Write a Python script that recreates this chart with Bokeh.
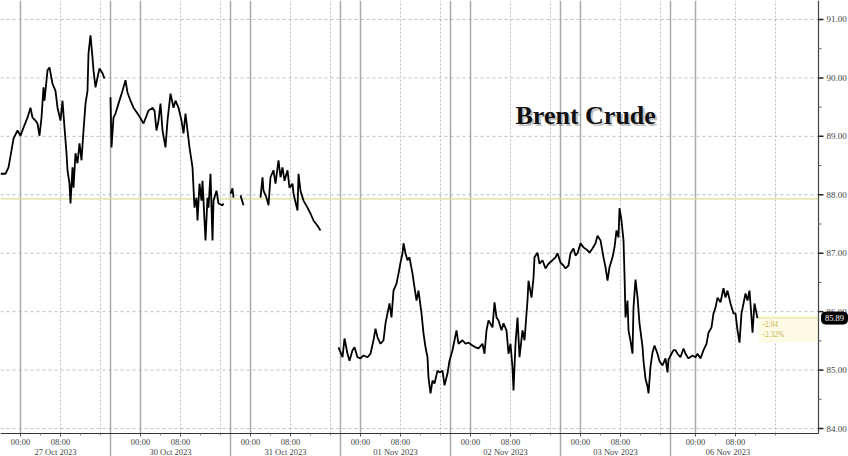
from bokeh.plotting import figure
from bokeh.models import Range1d
from bokeh.core.properties import value
from bokeh.embed import file_html
from bokeh.resources import INLINE

# ---------------- data ----------------
# trading sessions; x is continuous trading time in hours since the 27 Oct open
days = ["27 Oct 2023", "30 Oct 2023", "31 Oct 2023", "01 Nov 2023",
        "02 Nov 2023", "03 Nov 2023", "06 Nov 2023"]
session_open = [-4, -6, -4, -4, -4, -4, -5]    # hours before midnight
session_close = [18, 18, 18, 18, 18, 18, 18]   # hours after midnight
time_labels = ["00:00", "08:00"]

GAP = None
oct27 = [(0.0, 88.36), (1.0, 88.36), (1.6, 88.47), (2.2, 88.76), (2.6, 88.96), (3.4, 89.10),
         (4.0, 89.01), (4.6, 89.15), (5.4, 89.32), (6.0, 89.49), (6.4, 89.32), (7.0, 89.27),
         (7.4, 89.22), (7.8, 89.01), (8.2, 89.32), (8.6, 89.84), (8.8, 89.61), (9.4, 90.13),
         (9.8, 90.18), (10.4, 89.90), (11.0, 89.78), (11.4, 89.49), (12.0, 89.27), (12.4, 89.61),
         (12.8, 89.15), (13.2, 88.71), (13.4, 88.42), (13.8, 88.19), (14.0, 87.85), (14.4, 88.47),
         (14.6, 88.12), (15.0, 88.71), (15.4, 88.54), (15.8, 88.88), (16.2, 88.59), (16.6, 89.10),
         (17.0, 89.56), (17.4, 89.78), (17.6, 90.42), (18.0, 90.73), (18.4, 90.35), (18.6, 90.13),
         (19.0, 89.84), (19.4, 90.01), (19.8, 90.16), (20.4, 90.08), (20.8, 89.99)]
oct30 = [(22.0, 89.67), (22.2, 88.81), (22.6, 89.32), (23.0, 89.39), (23.6, 89.56), (24.4, 89.78),
         (25.0, 89.96), (25.4, 89.75), (26.0, 89.61), (26.6, 89.49), (27.4, 89.39), (28.0, 89.31),
         (28.6, 89.22), (29.6, 89.44), (30.4, 89.49), (30.8, 89.44), (31.2, 89.10), (31.6, 89.27),
         (32.0, 89.56), (32.4, 89.10), (33.0, 88.81), (33.4, 89.27), (34.0, 89.73), (34.6, 89.49),
         (35.0, 89.61), (35.6, 89.49), (36.2, 89.27), (36.6, 89.05), (37.0, 89.39), (37.4, 89.10),
         (37.8, 88.81), (38.4, 88.47), (38.6, 88.12), (38.8, 87.78), (39.2, 87.95), (39.4, 87.56),
         (39.8, 88.19), (40.2, 87.90), (40.4, 88.24), (40.6, 87.90), (41.0, 87.22), (41.4, 87.95),
         (41.6, 87.78), (42.0, 88.36), (42.4, 87.22), (42.6, 87.90), (43.2, 88.07), (43.6, 87.85),
         (44.4, 87.82), (44.6, 87.85)]
oct31 = [(46.0, 88.02), (46.4, 88.11), (46.6, 87.95), GAP, (48.0, 87.99), (48.6, 87.82), GAP,
         (52.0, 87.95), (52.4, 88.30), (52.6, 88.07), (53.2, 87.95), (53.6, 87.82), (54.0, 88.30),
         (54.6, 88.42), (55.0, 88.19), (55.6, 88.59), (56.0, 88.30), (56.4, 88.47), (56.8, 88.24),
         (57.4, 88.42), (57.8, 88.12), (58.4, 88.19), (58.6, 88.02), (59.4, 87.73), (59.6, 88.36),
         (60.0, 88.07), (60.6, 87.90), (61.4, 87.78), (62.0, 87.68), (62.6, 87.56), (63.4, 87.47),
         (64.0, 87.39)]
nov01 = [(67.6, 85.39), (68.4, 85.22), (68.8, 85.54), (69.4, 85.28), (69.8, 85.16), (70.4, 85.34),
         (70.8, 85.39), (71.4, 85.22), (72.0, 85.20), (72.6, 85.25), (73.4, 85.22), (74.0, 85.28),
         (74.6, 85.51), (75.0, 85.71), (75.4, 85.56), (76.0, 85.45), (76.6, 85.51), (77.0, 85.80),
         (77.4, 85.97), (77.8, 86.14), (78.2, 85.90), (78.6, 86.36), (79.2, 86.48), (79.6, 86.65),
         (80.0, 86.84), (80.4, 87.00), (80.6, 87.17), (81.0, 87.00), (81.4, 86.88), (81.8, 86.93),
         (82.4, 86.65), (82.6, 86.53), (83.2, 86.19), (83.6, 86.36), (84.2, 85.97), (84.6, 85.63),
         (85.0, 85.39), (85.4, 85.22), (85.6, 84.87), (86.0, 84.60), (86.4, 84.82), (86.8, 84.77),
         (87.4, 84.99), (87.8, 84.96), (88.4, 84.99), (88.8, 84.74), (89.4, 84.94)]
nov02 = [(89.8, 85.16), (90.4, 85.34), (90.8, 85.51), (91.2, 85.68), (91.6, 85.45), (92.4, 85.51),
         (93.0, 85.45), (93.6, 85.47), (94.4, 85.42), (95.0, 85.39), (95.6, 85.37), (96.4, 85.45),
         (96.8, 85.28), (97.2, 85.68), (97.6, 85.85), (98.4, 85.73), (98.8, 86.16), (99.2, 85.90),
         (99.6, 85.85), (100.2, 85.68), (100.6, 85.80), (101.2, 85.68), (101.6, 85.28), (102.0, 85.45),
         (102.4, 85.04), (102.6, 84.65), (103.0, 85.45), (103.4, 85.90), (103.8, 85.22), (104.4, 85.68),
         (104.8, 85.51), (105.4, 86.19), (105.6, 86.53), (106.2, 86.24), (106.6, 86.58), (106.8, 86.93),
         (107.4, 87.01), (107.8, 86.82), (108.4, 86.88), (109.0, 86.74), (109.6, 86.82), (110.4, 86.88),
         (111.0, 86.93), (111.4, 87.00)]
nov03 = [(112.0, 86.84), (112.6, 86.79), (113.0, 86.74), (113.6, 86.79), (114.0, 87.00), (114.6, 87.08),
         (115.0, 86.96), (115.4, 87.00), (116.0, 87.17), (116.6, 87.10), (117.4, 87.05), (117.8, 87.01),
         (118.4, 87.08), (119.0, 87.17), (119.4, 87.30), (120.0, 87.22), (120.6, 86.93), (121.0, 86.76),
         (121.4, 86.53), (121.8, 86.76), (122.4, 86.93), (122.8, 87.10), (123.2, 87.39), (123.6, 87.27),
         (123.8, 87.77), (124.2, 87.56), (124.6, 87.22), (124.8, 86.65), (125.0, 85.90), (125.4, 86.19),
         (125.6, 85.68), (126.0, 85.50), (126.4, 85.28), (126.6, 86.07), (127.0, 86.55), (127.4, 86.25),
         (127.8, 85.80), (128.4, 85.40), (128.6, 85.16), (129.0, 84.85), (129.4, 84.72), (129.6, 84.60),
         (130.0, 85.06), (130.4, 85.30), (130.8, 85.42), (131.4, 85.28), (131.8, 85.15), (132.4, 85.08),
         (133.0, 85.20), (133.4, 84.96), (133.6, 85.18), (134.2, 85.28), (134.6, 85.34)]
nov06 = [(135.0, 85.34), (135.4, 85.28), (136.0, 85.22), (136.6, 85.37), (137.0, 85.28), (137.6, 85.20),
         (138.4, 85.25), (139.0, 85.22), (139.4, 85.28), (140.0, 85.20), (140.6, 85.34), (141.2, 85.45),
         (141.6, 85.64), (142.2, 85.73), (142.6, 85.97), (143.0, 86.07), (143.4, 86.24), (144.0, 86.16),
         (144.6, 86.40), (145.0, 86.24), (145.4, 86.36), (146.0, 86.14), (146.6, 85.97), (147.0, 85.97),
         (147.4, 85.68), (147.8, 85.47), (148.2, 85.97), (148.6, 86.14), (149.0, 86.31), (149.4, 86.19),
         (149.8, 86.36), (150.2, 85.90), (150.4, 85.64), (150.8, 86.14), (151.2, 85.97), (151.4, 85.89)]

prev_close = 87.93
y_ticks = [84, 85, 86, 87, 88, 89, 90, 91]
title_text = "Brent Crude"

# ---------------- derived series ----------------
sessions = [oct27, [GAP], oct30, [GAP], oct31, [GAP], nov01, nov02, nov03, nov06]
xs, ys = [], []
for seg in sessions:
    for pt in seg:
        if pt is None:
            xs.append(float("nan")); ys.append(float("nan"))
        else:
            xs.append(pt[0]); ys.append(pt[1])

last_x, last_p = nov06[-1]
chg = last_p - prev_close
pct = chg / prev_close * 100.0

starts = [0]
for o, c in zip(session_open, session_close):
    starts.append(starts[-1] + (c - o))
midnights = [s - o for s, o in zip(starts[:-1], session_open)]
separators = starts[1:-1]
centers = [(a + b) / 2.0 for a, b in zip(starts[:-1], starts[1:])]

# ---------------- figure ----------------
W, H = 848, 456
x_lo, x_hi = 0.0, 169.6
y_lo, y_hi = 83.521, 91.325
dx = (x_hi - x_lo) / W          # data units per pixel
dy = (y_hi - y_lo) / H
axis_x = x_hi - 30 * dx         # right price axis
axis_y = y_lo + 23 * dy         # bottom time axis

p = figure(width=W, height=H, output_backend="svg", toolbar_location=None,
           x_range=Range1d(x_lo, x_hi), y_range=Range1d(y_lo, y_hi),
           x_axis_location=None, y_axis_location=None,
           min_border=0)
p.outline_line_color = None
p.grid.visible = False
p.background_fill_color = "white"
p.border_fill_color = "white"

serif = value("Liberation Serif")

# horizontal grid
p.segment(x0=[x_lo] * len(y_ticks), y0=y_ticks, x1=[axis_x] * len(y_ticks), y1=y_ticks,
          line_color="#bdbdbd", line_dash="3 3", line_width=1)

# vertical guide lines
p.segment(x0=midnights, y0=[axis_y] * len(midnights), x1=midnights, y1=[y_hi] * len(midnights),
          line_color="#aaaaaa", line_width=1.5)
dotted = [m + h for m in midnights for h in (8, 16)]
p.segment(x0=dotted, y0=[axis_y] * len(dotted), x1=dotted, y1=[y_hi] * len(dotted),
          line_color="#bdbdbd", line_dash="2 2", line_width=1)
p.segment(x0=separators, y0=[y_lo] * len(separators), x1=separators, y1=[y_hi] * len(separators),
          line_color="#aaaaaa", line_width=1.5)

# previous close reference line
p.segment(x0=[x_lo], y0=[prev_close], x1=[axis_x], y1=[prev_close],
          line_color="#dcdc9a", line_width=1.3)

# change box + last-price guide
p.quad(left=[last_x + 1 * dx], right=[axis_x], top=[last_p + 3 * dy], bottom=[last_p - 24 * dy],
       fill_color="#fdfbe3", line_color=None)
p.segment(x0=[last_x], y0=[last_p], x1=[axis_x], y1=[last_p], line_color="#e3dca0", line_width=1)
p.text(x=[last_x + 5 * dx, last_x + 5 * dx], y=[last_p - 6 * dy, last_p - 16 * dy],
       text=["%.2f" % chg, "%.2f%%" % pct], text_font=serif, text_font_size="7.5px",
       text_color="#c4b355", text_align="left", text_baseline="middle")

# price line
p.line(xs, ys, line_color="black", line_width=1.8)

# axes lines
p.segment(x0=[x_lo], y0=[axis_y], x1=[axis_x], y1=[axis_y], line_color="#333333", line_width=1.2)
p.segment(x0=[axis_x], y0=[axis_y], x1=[axis_x], y1=[y_hi], line_color="#444444", line_width=1.2)

# right axis ticks & labels
minor_y = [v + 0.5 for v in y_ticks[:-1]]
p.segment(x0=[axis_x] * len(y_ticks), y0=y_ticks, x1=[axis_x + 5 * dx] * len(y_ticks), y1=y_ticks,
          line_color="#222222", line_width=1.5)
p.segment(x0=[axis_x] * len(minor_y), y0=minor_y, x1=[axis_x + 3 * dx] * len(minor_y), y1=minor_y,
          line_color="#666666", line_width=1)
p.text(x=[axis_x + 8 * dx] * len(y_ticks), y=y_ticks, text=["%.2f" % v for v in y_ticks],
       text_font=serif, text_font_size="9px", text_color="#444444",
       text_align="left", text_baseline="middle")

# bottom axis ticks & labels
tick_x, tick_t = [], []
for m in midnights:
    tick_x += [m, m + 8]
    tick_t += time_labels
minor_x = [m + h for m in midnights for h in (4, 12, 16)]
p.segment(x0=tick_x, y0=[axis_y] * len(tick_x), x1=tick_x, y1=[axis_y - 3 * dy] * len(tick_x),
          line_color="#555555", line_width=1)
p.segment(x0=minor_x, y0=[axis_y] * len(minor_x), x1=minor_x, y1=[axis_y - 2 * dy] * len(minor_x),
          line_color="#888888", line_width=1)
p.text(x=tick_x, y=[axis_y - 8 * dy] * len(tick_x), text=tick_t, text_font=serif,
       text_font_size="8.5px", text_color="#444444", text_align="center", text_baseline="middle")
p.text(x=centers, y=[axis_y - 18 * dy] * len(centers), text=days, text_font=serif,
       text_font_size="8.5px", text_color="#444444", text_align="center", text_baseline="middle")

# last price badge
p.quad(left=[axis_x + 3 * dx], right=[x_hi - 1 * dx], top=[last_p + 6 * dy], bottom=[last_p - 6 * dy],
       fill_color="black", line_color="black", border_radius=4)
p.text(x=[(axis_x + x_hi) / 2 + 1 * dx], y=[last_p], text=["%.2f" % last_p], text_font=serif,
       text_font_size="8.5px", text_color="white", text_align="center", text_baseline="middle")

# title with soft shadow
p.text(x=[103 + 2 * dx], y=[89.36 - 2 * dy], text=[title_text], text_font=serif,
       text_font_style="bold", text_font_size="26px", text_color="#777777", text_alpha=0.45,
       text_baseline="alphabetic")
p.text(x=[103], y=[89.36], text=[title_text], text_font=serif, text_font_style="bold",
       text_font_size="26px", text_color="#111111", text_baseline="alphabetic")

open("out.html", "w").write(file_html(p, INLINE))
